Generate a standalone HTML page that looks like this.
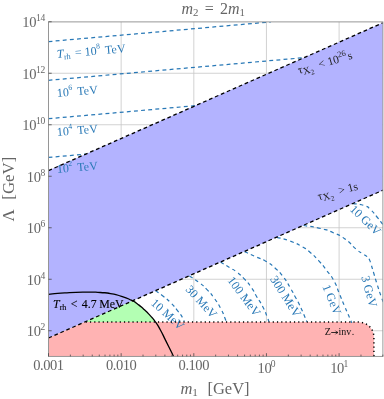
<!DOCTYPE html>
<html><head><meta charset="utf-8"><style>
html,body{margin:0;padding:0;background:#fff}
body{width:384px;height:399px;position:relative;overflow:hidden;font-family:"Liberation Serif",serif}
.t{position:absolute;white-space:nowrap;line-height:1}
.t sup{font-size:68%;vertical-align:baseline;position:relative;top:-0.5em;line-height:0}
.t sub{font-size:68%;vertical-align:baseline;position:relative;top:0.25em;line-height:0}
.yl{left:0;width:44.9px;letter-spacing:-0.2px;text-align:right;font-size:14.5px;color:#666}
.xl{width:60px;text-align:center;font-size:14.5px;color:#666;letter-spacing:-0.45px}
.xl sup,.yl sup{font-size:66%;top:-0.64em;letter-spacing:-0.3px;margin-left:-0.4px}
</style></head><body>
<svg width="384" height="399" viewBox="0 0 384 399" style="position:absolute;left:0;top:0">
<defs><clipPath id="c"><rect x="48.5" y="21.9" width="334.4" height="334.5"/></clipPath></defs>
<rect width="384" height="399" fill="#fff"/>
<path d="M121.15 21.9V356.4M193.80 21.9V356.4M266.45 21.9V356.4M339.10 21.9V356.4M48.5 73.25H382.9M48.5 124.75H382.9M48.5 176.25H382.9M48.5 227.75H382.9M48.5 279.25H382.9M48.5 330.75H382.9" stroke="#c6c6c6" stroke-width="0.8" fill="none"/>
<g clip-path="url(#c)">
<path d="M48.5 170.60L382.9 22.80L382.9 190.20L48.5 338.00Z" fill="#b3b3ff"/>
<path d="M48.5 338.00L84.70 322.0L357 322.0C364 322.0 372.5 325.0 373.9 336.0L373.9 356.4L48.5 356.4Z" fill="#ffb3b3"/>
<path d="M84.70 322.0L134.4 300.03L137.5 304L143.75 309.2L150 315.4L155.2 322.0Z" fill="#b3ffb3"/>
<path d="M48.5 41.6L270.85 21.90" stroke="#2878b6" stroke-width="1.25" stroke-dasharray="3.9 3.25" fill="none"/>
<path d="M48.5 80.3L304.02 57.66" stroke="#2878b6" stroke-width="1.25" stroke-dasharray="3.9 3.25" fill="none"/>
<path d="M48.5 118.7L195.36 105.69" stroke="#2878b6" stroke-width="1.25" stroke-dasharray="3.9 3.25" fill="none"/>
<path d="M48.5 157.4L85.85 154.09" stroke="#2878b6" stroke-width="1.25" stroke-dasharray="3.9 3.25" fill="none"/>
<path d="M155.60 290.80C158.03 292.53 157.68 291.83 162.90 296.00C168.12 300.17 166.38 298.43 171.25 303.30C176.12 308.17 173.68 305.73 177.50 310.60C181.32 315.47 180.53 314.27 182.70 317.90C184.87 321.53 183.57 320.30 184.00 321.50" stroke="#2878b6" stroke-width="1.2" stroke-dasharray="3.7 3.2" fill="none"/>
<path d="M189.40 276.00C192.52 278.10 192.88 277.77 198.75 282.30C204.62 286.83 201.78 284.20 207.00 289.60C212.22 295.00 209.87 292.27 214.40 298.50C218.93 304.73 217.13 301.90 220.60 308.30C224.07 314.70 223.00 313.30 224.80 317.70C226.60 322.10 225.60 320.23 226.00 321.50" stroke="#2878b6" stroke-width="1.2" stroke-dasharray="3.7 3.2" fill="none"/>
<path d="M220.50 262.00C223.67 263.93 224.83 264.63 230.00 267.80C235.17 270.97 231.40 267.97 236.00 271.50C240.60 275.03 238.60 272.97 243.80 278.40C249.00 283.83 247.43 281.93 251.60 287.80C255.77 293.67 252.67 289.87 256.30 296.00C259.93 302.13 258.77 298.97 262.50 306.20C266.23 313.43 265.43 312.60 267.50 317.70C269.57 322.80 268.30 320.23 268.70 321.50" stroke="#2878b6" stroke-width="1.2" stroke-dasharray="3.7 3.2" fill="none"/>
<path d="M244.60 251.60C247.98 253.17 247.72 253.10 254.75 256.30C261.78 259.50 258.95 257.30 265.70 261.20C272.45 265.10 269.07 262.67 275.00 268.00C280.93 273.33 278.33 270.47 283.50 277.20C288.67 283.93 286.67 281.77 290.50 288.20C294.33 294.63 292.17 291.30 295.00 296.50C297.83 301.70 295.60 296.73 299.00 303.80C302.40 310.87 302.70 311.80 305.20 317.70C307.70 323.60 306.07 320.23 306.50 321.50" stroke="#2878b6" stroke-width="1.2" stroke-dasharray="3.7 3.2" fill="none"/>
<path d="M277.00 237.30C281.33 238.53 281.47 237.77 290.00 241.00C298.53 244.23 295.85 243.17 302.60 247.00C309.35 250.83 304.92 247.97 310.25 252.50C315.58 257.03 313.05 254.50 318.60 260.60C324.15 266.70 321.70 263.92 326.90 270.80C332.10 277.68 330.03 273.60 334.20 281.25C338.37 288.90 335.93 285.42 339.40 293.75C342.87 302.08 340.90 297.57 344.60 306.25C348.30 314.93 348.30 314.72 350.50 319.80C352.70 324.88 350.97 320.93 351.20 321.50" stroke="#2878b6" stroke-width="1.2" stroke-dasharray="3.7 3.2" fill="none"/>
<path d="M303.50 225.50C309.23 226.50 310.80 226.10 320.70 228.50C330.60 230.90 325.10 229.20 333.20 232.70C341.30 236.20 337.40 233.57 345.00 239.00C352.60 244.43 350.17 244.13 356.00 249.00C361.83 253.87 358.50 250.93 362.50 253.60C366.50 256.27 366.17 255.87 368.00 257.00C368.60 258.17 368.80 258.17 369.80 260.50C370.80 262.83 369.60 259.50 371.00 264.00C372.40 268.50 372.00 267.33 374.00 274.00C376.00 280.67 374.67 276.67 377.00 284.00C379.33 291.33 378.67 289.33 381.00 296.00C383.33 302.67 383.00 301.33 384.00 304.00" stroke="#2878b6" stroke-width="1.2" stroke-dasharray="3.7 3.2" fill="none"/>
<path d="M353.00 203.60C356.80 204.27 358.50 203.53 364.40 205.60C370.30 207.67 366.50 206.00 370.70 209.80C374.90 213.60 373.23 212.50 377.00 217.00C380.77 221.50 379.67 220.30 382.00 223.30C384.33 226.30 383.33 225.10 384.00 226.00" stroke="#2878b6" stroke-width="1.2" stroke-dasharray="3.7 3.2" fill="none"/>
</g></svg>

<div style="position:absolute;left:0;top:0;width:384px;height:399px;will-change:transform;transform:translateZ(0)"><div class="t yl" style="top:15.35px">10<sup>14</sup></div><div class="t yl" style="top:66.85px">10<sup>12</sup></div><div class="t yl" style="top:118.35px">10<sup>10</sup></div><div class="t yl" style="top:169.85px">10<sup>8</sup></div><div class="t yl" style="top:221.35px">10<sup>6</sup></div><div class="t yl" style="top:272.85px">10<sup>4</sup></div><div class="t yl" style="top:324.35px">10<sup>2</sup></div><div class="t xl" style="left:18.50px;top:357.9px">0.001</div><div class="t xl" style="left:91.15px;top:357.9px">0.010</div><div class="t xl" style="left:163.80px;top:357.9px">0.100</div><div class="t xl" style="left:236.45px;top:360.7px">10<sup>0</sup></div><div class="t xl" style="left:309.10px;top:360.7px">10<sup>1</sup></div><div class="t" style="left:181.5px;top:0.5px;font-size:16px;color:#666"><i>m</i><sub>2</sub><span style="padding:0 6.2px 0 6.2px">=</span>2<i>m</i><sub>1</sub></div><div class="t" style="left:180.4px;top:380.5px;font-size:16.5px;color:#666"><i>m</i><sub>1</sub><span style="padding-left:9.5px">[GeV]</span></div><div class="t" style="left:8.8px;top:189.3px;font-size:16.9px;color:#666;transform:translate(-50%,-50%) rotate(-90deg);">&Lambda;<span style="padding-left:9.5px">[GeV]</span></div><div class="t" style="left:57.2px;top:53.8px;font-size:12px;color:#2878b6;transform-origin:0 50%;transform:translate(0,-50%) rotate(-4.8deg)"><i>T</i><sub>rh</sub><span style="padding:0 0 0 4.6px">=</span> 10<span style="font-size:64%;position:relative;top:-0.78em;margin-left:-0.3px">8</span><span style="padding-left:0.4em">TeV</span></div><div class="t" style="left:56.6px;top:93.3px;font-size:12px;color:#2878b6;transform-origin:0 50%;transform:translate(0,-50%) rotate(-4.8deg)">10<span style="font-size:64%;position:relative;top:-0.78em;margin-left:-0.3px">6</span><span style="padding-left:0.4em">TeV</span></div><div class="t" style="left:56.6px;top:132.1px;font-size:12px;color:#2878b6;transform-origin:0 50%;transform:translate(0,-50%) rotate(-4.8deg)">10<span style="font-size:64%;position:relative;top:-0.78em;margin-left:-0.3px">4</span><span style="padding-left:0.4em">TeV</span></div><div class="t" style="left:56.6px;top:169.4px;font-size:12px;color:#2878b6;transform-origin:0 50%;transform:translate(0,-50%) rotate(-4.8deg)">10<span style="font-size:64%;position:relative;top:-0.78em;margin-left:-0.3px">2</span><span style="padding-left:0.4em">TeV</span></div><div class="t" style="left:297.5px;top:70.6px;font-size:11.5px;color:#222;transform-origin:0 50%;transform:translate(0,-50%) rotate(-16deg)">&tau;<span style="font-size:88%;position:relative;top:0.22em">X<span style="font-size:70%;position:relative;top:0.3em">2</span></span><span style="padding:0 3px 0 6px">&lt;</span>10<span style="font-size:72%;position:relative;top:-0.6em">26</span><span style="padding-left:1.2px">s</span></div><div class="t" style="left:318.2px;top:197.4px;font-size:11.5px;color:#222;transform-origin:0 50%;transform:translate(0,-50%) rotate(-15deg)">&tau;<span style="font-size:88%;position:relative;top:0.22em">X<span style="font-size:70%;position:relative;top:0.3em">2</span></span><span style="padding:0 3px 0 6px">&gt;</span>1s</div><div class="t" style="left:53px;top:304.6px;font-size:11.9px;color:#000;transform-origin:0 50%;transform:translate(0,-50%) rotate(0deg)"><span style="-webkit-text-stroke:0.12px #000"><i>T</i><sub>rh</sub><span style="padding:0 0 0 1.3px;margin-right:1.5px"> &lt; </span>4.7<span style="margin-left:-0.5px"> MeV</span></span></div><div class="t" style="left:324.8px;top:332.4px;font-size:10px;color:#111;transform-origin:0 50%;transform:translate(0,-50%) rotate(0deg)">Z<svg width="7.4" height="5" viewBox="0 0 7.4 5" style="display:inline-block;vertical-align:0.06em;margin:0 0.2px 0 -0.1px"><path d="M0.2 2.5H6.9M4.5 0.7Q5.3 2 7.1 2.5Q5.3 3 4.5 4.3" stroke="#111" stroke-width="0.85" fill="none"/></svg>inv<span style="padding-left:0.5px">.</span></div><div class="t" style="left:153.1px;top:301.3px;font-size:12px;color:#2878b6;transform-origin:0 50%;transform:translate(0,-50%) rotate(42deg)">10 MeV</div><div class="t" style="left:187.8px;top:286.5px;font-size:12px;color:#2878b6;transform-origin:0 50%;transform:translate(0,-50%) rotate(47.5deg)">30 MeV</div><div class="t" style="left:229.6px;top:277.6px;font-size:12.2px;color:#2878b6;transform-origin:0 50%;transform:translate(0,-50%) rotate(53deg)">100 MeV</div><div class="t" style="left:273.3px;top:276.5px;font-size:12.2px;color:#2878b6;transform-origin:0 50%;transform:translate(0,-50%) rotate(57.5deg)">300 MeV</div><div class="t" style="left:325.7px;top:284.8px;font-size:12px;color:#2878b6;transform-origin:0 50%;transform:translate(0,-50%) rotate(68deg)">1 GeV</div><div class="t" style="left:365.2px;top:275.8px;font-size:12.2px;color:#2878b6;transform-origin:0 50%;transform:translate(0,-50%) rotate(75deg)">3 GeV</div><div class="t" style="left:351.5px;top:207px;font-size:12px;color:#2878b6;transform-origin:0 50%;transform:translate(0,-50%) rotate(44deg)">10 GeV</div></div>

<svg width="384" height="399" viewBox="0 0 384 399" style="position:absolute;left:0;top:0">
<defs><clipPath id="c2"><rect x="48.5" y="21.9" width="334.4" height="334.5"/></clipPath></defs>
<g clip-path="url(#c2)">
<path d="M48.5 170.60L382.9 22.80M48.5 338.00L382.9 190.20" stroke="#000" stroke-width="1.3" stroke-dasharray="3.7 2.8" fill="none"/>
<path d="M85.70 322.0L357 322.0C364 322.0 372.5 325.0 373.9 336.0L373.9 356.4" stroke="#000" stroke-width="1.5" stroke-dasharray="1.2 3.05" fill="none"/>
<path d="M48.50 294.40C53.93 293.90 52.40 293.67 64.80 292.90C77.20 292.13 73.88 292.23 85.70 292.10C97.52 291.97 92.02 292.00 100.25 292.50C108.48 293.00 103.55 292.40 110.40 293.60C117.25 294.80 113.85 293.90 120.80 296.10C127.75 298.30 125.68 297.57 131.25 300.20C136.82 302.83 133.33 301.00 137.50 304.00C141.67 307.00 139.58 305.40 143.75 309.20C147.92 313.00 146.18 311.23 150.00 315.40C153.82 319.57 151.73 316.83 155.20 321.70C158.67 326.57 156.93 323.77 160.40 330.00C163.87 336.23 162.13 333.47 165.60 340.40C169.07 347.33 168.13 345.40 170.80 350.80C173.47 356.20 172.67 354.67 173.60 356.60" stroke="#000" stroke-width="1.3" fill="none"/>
</g>
<rect x="48.5" y="21.9" width="334.4" height="334.5" fill="none" stroke="#8c8c8c" stroke-width="0.9"/>
<path d="M48.50 356.4v-3.2M70.37 356.4v-1.8M83.16 356.4v-1.8M92.24 356.4v-1.8M99.28 356.4v-1.8M105.03 356.4v-1.8M109.90 356.4v-1.8M114.11 356.4v-1.8M117.83 356.4v-1.8M121.15 356.4v-3.2M143.02 356.4v-1.8M155.81 356.4v-1.8M164.89 356.4v-1.8M171.93 356.4v-1.8M177.68 356.4v-1.8M182.55 356.4v-1.8M186.76 356.4v-1.8M190.48 356.4v-1.8M193.80 356.4v-3.2M215.67 356.4v-1.8M228.46 356.4v-1.8M237.54 356.4v-1.8M244.58 356.4v-1.8M250.33 356.4v-1.8M255.20 356.4v-1.8M259.41 356.4v-1.8M263.13 356.4v-1.8M266.45 356.4v-3.2M288.32 356.4v-1.8M301.11 356.4v-1.8M310.19 356.4v-1.8M317.23 356.4v-1.8M322.98 356.4v-1.8M327.85 356.4v-1.8M332.06 356.4v-1.8M335.78 356.4v-1.8M339.10 356.4v-3.2M360.97 356.4v-1.8M373.76 356.4v-1.8M382.84 356.4v-1.8M48.5 330.75h3.2M48.5 279.25h3.2M48.5 227.75h3.2M48.5 176.25h3.2M48.5 124.75h3.2M48.5 73.25h3.2M48.5 21.75h3.2" stroke="#484848" stroke-width="0.8" fill="none"/>
</svg>
</body></html>
